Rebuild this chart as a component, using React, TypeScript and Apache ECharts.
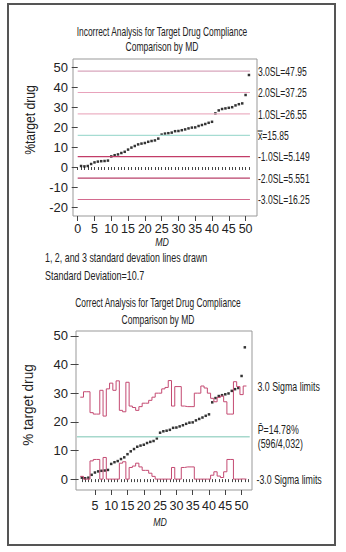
import React, { useEffect, useRef } from "react";
import * as echarts from "echarts";

// MD index and % target drug per MD (sorted)
const mdIndex = Array.from({ length: 51 }, (_, i) => i + 1);
const pctTargetDrug = [
  0.5, 0.3, 0.5, 1.5, 2.3, 2.7, 2.9, 3.0, 3.2, 5.3,
  5.9, 6.3, 7.0, 7.6, 8.7, 9.7, 10.5, 11.3, 11.7, 12.0,
  12.6, 13.0, 13.3, 14.2, 16.2, 16.7, 16.9, 17.2, 17.9, 18.0,
  18.4, 18.8, 19.3, 19.7, 19.8, 20.5, 21.0, 21.5, 22.1, 22.6,
  26.8, 28.3, 29.0, 29.3, 29.6, 29.9, 30.8, 31.4, 31.8, 36.0,
  46.0,
];

// Incorrect analysis: standard deviation lines
const sdLineValues = [47.95, 37.25, 26.55, 15.85, 5.149, -5.551, -16.25];
const sdLineLabels = [
  "3.0SL=47.95",
  "2.0SL=37.25",
  "1.0SL=26.55",
  "x\u033F=15.85",
  "-1.0SL=5.149",
  "-2.0SL=5.551",
  "-3.0SL=16.25",
];
const sdLineColors = ["#d8a6bc", "#e8a2bb", "#ecb2c4", "#a6dcd2", "#c23c68", "#b8406a", "#d36a8e"];

// Correct analysis: p-bar and 3-sigma upper limit per MD
const pBar = 14.78;
const pBarLabel = "P\u0304=14.78%\n(596/4,032)";
const upperSigmaLimit = [
  28.6, 30.5, 30.5, 23.2, 22.7, 22.7, 31.0, 22.0, 31.5, 33.5,
  31.0, 34.3, 24.0, 23.5, 33.8, 25.5, 25.0, 24.0, 25.3, 26.5,
  26.5, 27.5, 28.6, 30.0, 30.0, 31.5, 32.0, 34.4, 25.5, 32.3,
  32.3, 25.5, 25.3, 25.3, 25.3, 30.0, 30.0, 32.5, 31.8, 30.0,
  28.2, 27.0, 28.5, 29.0, 27.0, 22.7, 22.7, 34.0, 32.3, 29.5,
  32.5,
];
const lowerSigmaLimit = upperSigmaLimit.map((u) => Math.max(0, 2 * pBar - u));

const topYTicks = [-20, -10, 0, 10, 20, 30, 40, 50];
const topXLabels = [0, 5, 10, 15, 20, 25, 30, 35, 40, 45, 50];
const topXTicks = Array.from({ length: 52 }, (_, i) => i);
const botYTicks = [0, 10, 20, 30, 40, 50];
const botXLabels = [5, 10, 15, 20, 25, 30, 35, 40, 45, 50];
const botXTicks = Array.from({ length: 52 }, (_, i) => i + 1);

const FONT = "'Liberation Sans', Arial, sans-serif";
const TXT = "#222";
const SDX = [0, 51.3];
const CLX = [-0.5, 52.5];

function stepData(vals: number[]) {
  const out: number[][] = [];
  vals.forEach((v, i) => {
    out.push([mdIndex[i] - 0.5, v]);
    out.push([mdIndex[i] + 0.5, v]);
  });
  return out;
}

function txt(id: string, x: number, y: number, text: string, size: number, extra: any = {}) {
  return {
    id,
    type: "text",
    x,
    y,
    scaleX: extra.scaleX ?? 0.75,
    rotation: extra.rotation || 0,
    silent: true,
    style: {
      text,
      fill: TXT,
      font: `${extra.italic ? "italic " : ""}${size}px ${FONT}`,
      textAlign: extra.align || "center",
      textVerticalAlign: "middle",
      lineHeight: extra.lineHeight,
    },
  };
}

export default function App() {
  const ref = useRef<HTMLDivElement>(null);
  useEffect(() => {
    if (!ref.current) return;
    const chart = echarts.init(ref.current, null, { renderer: "svg" });

    const xAxisBase = (gridIndex: number, min: number, max: number) => ({
      type: "value",
      gridIndex,
      min,
      max,
      position: "bottom",
      axisLine: { show: false },
      splitLine: { show: false },
    });

    const series: any[] = [];
    sdLineValues.forEach((v, k) => {
      series.push({
        type: "line",
        xAxisIndex: 0,
        yAxisIndex: 0,
        data: [[SDX[0], v], [SDX[1], v]],
        symbol: "none",
        silent: true,
        lineStyle: { color: sdLineColors[k], width: 1.2 },
      });
    });
    series.push({
      type: "scatter",
      xAxisIndex: 0,
      yAxisIndex: 0,
      data: pctTargetDrug.map((v, i) => [mdIndex[i], v]),
      symbol: "rect",
      symbolSize: 2.5,
      itemStyle: { color: "#000" },
    });

    series.push({
      type: "line",
      xAxisIndex: 2,
      yAxisIndex: 1,
      data: [[CLX[0], pBar], [CLX[1], pBar]],
      symbol: "none",
      lineStyle: { color: "#a6d8cc", width: 1.5 },
    });
    series.push({
      type: "line",
      xAxisIndex: 2,
      yAxisIndex: 1,
      data: stepData(upperSigmaLimit),
      symbol: "none",
      lineStyle: { color: "#c44a72", width: 1 },
    });
    series.push({
      type: "line",
      xAxisIndex: 2,
      yAxisIndex: 1,
      data: stepData(lowerSigmaLimit),
      symbol: "none",
      lineStyle: { color: "#c44a72", width: 1 },
    });
    series.push({
      type: "scatter",
      xAxisIndex: 2,
      yAxisIndex: 1,
      data: pctTargetDrug.map((v, i) => [mdIndex[i], v]),
      symbol: "rect",
      symbolSize: 2.5,
      itemStyle: { color: "#000" },
    });

    const axisLabelStyle = { color: TXT, fontFamily: FONT };

    chart.setOption({
      animation: false,
      backgroundColor: "#fff",
      textStyle: { fontFamily: FONT },
      grid: [
        { left: 73, top: 59, width: 184, height: 157, show: true, borderColor: "#999", borderWidth: 1, backgroundColor: "transparent" },
        { left: 76, top: 331, width: 176, height: 159, show: true, borderColor: "#999", borderWidth: 1, backgroundColor: "transparent" },
      ],
      xAxis: [
        {
          ...xAxisBase(0, -1.4, 53.4),
          axisTick: { show: true, customValues: topXTicks, length: 3, lineStyle: { color: "#444" } },
          axisLabel: { show: true, customValues: topXLabels, fontSize: 12.5, margin: 6, ...axisLabelStyle },
        },
        {
          ...xAxisBase(0, -1.4, 53.4),
          axisTick: { show: true, customValues: topXLabels, length: 5, lineStyle: { color: "#444" } },
          axisLabel: { show: false },
        },
        {
          ...xAxisBase(1, -0.8, 53.2),
          axisTick: { show: true, customValues: botXTicks, length: 3, lineStyle: { color: "#444" } },
          axisLabel: { show: true, customValues: botXLabels, fontSize: 12.5, margin: 9, ...axisLabelStyle },
        },
        {
          ...xAxisBase(1, -0.8, 53.2),
          axisTick: { show: true, customValues: botXLabels, length: 5, lineStyle: { color: "#444" } },
          axisLabel: { show: false },
        },
      ],
      yAxis: [
        {
          type: "value",
          gridIndex: 0,
          min: -24.5,
          max: 54,
          axisLine: { show: false },
          splitLine: { show: false },
          axisTick: { show: true, customValues: topYTicks, length: 6, lineStyle: { color: "#444" } },
          axisLabel: { show: true, customValues: topYTicks, fontSize: 13, margin: 5, ...axisLabelStyle },
        },
        {
          type: "value",
          gridIndex: 1,
          min: -3.8,
          max: 51.7,
          axisLine: { show: false },
          splitLine: { show: false },
          axisTick: { show: true, customValues: botYTicks, length: 8, lineStyle: { color: "#444" } },
          axisLabel: { show: true, customValues: botYTicks, fontSize: 13, margin: 8, ...axisLabelStyle },
        },
      ],
      series,
      graphic: [
        {
          id: "frame",
          type: "rect",
          shape: { x: 8, y: 4, width: 327, height: 541 },
          style: { fill: "none", stroke: "#555", lineWidth: 2 },
          silent: true,
        },
        txt("t1", 162, 32, "Incorrect Analysis for Target Drug Compliance", 12, { scaleX: 0.7 }),
        txt("t2", 162, 47, "Comparison by MD", 12, { scaleX: 0.71 }),
        txt("yn1", 30, 120, "%target drug", 14, { rotation: Math.PI / 2, scaleX: 0.87 }),
        txt("xn1", 162, 242, "MD", 11, { italic: true, scaleX: 0.8 }),
        txt("n1", 45, 257, "1, 2, and 3 standard devation lines drawn", 12, { align: "left", scaleX: 0.74 }),
        txt("n2", 45, 275, "Standard Deviation=10.7", 12, { align: "left", scaleX: 0.75 }),
        txt("t3", 158, 303, "Correct Analysis for Target Drug Compliance", 12, { scaleX: 0.7 }),
        txt("t4", 158, 320, "Comparison by MD", 12, { scaleX: 0.71 }),
        txt("yn2", 28, 405, "% target drug", 14, { rotation: Math.PI / 2, scaleX: 0.97 }),
        txt("xn2", 160, 522, "MD", 11, { italic: true, scaleX: 0.8 }),
      ],
    });

    // Right-hand labels anchored to the line ends through the chart's own scales
    const labels: any[] = [];
    sdLineValues.forEach((v, k) => {
      const p = chart.convertToPixel({ xAxisIndex: 0, yAxisIndex: 0 }, [SDX[1], v]) as number[];
      labels.push(txt("sdl" + k, p[0] + 8, p[1], sdLineLabels[k], 13, { align: "left", scaleX: 0.66 }));
    });
    const nU = upperSigmaLimit.length - 1;
    const pu = chart.convertToPixel({ xAxisIndex: 2, yAxisIndex: 1 }, [mdIndex[nU] + 0.5, upperSigmaLimit[nU]]) as number[];
    labels.push(txt("ucl", pu[0] + 11, pu[1], "3.0 Sigma limits", 13, { align: "left", scaleX: 0.68 }));
    const pc = chart.convertToPixel({ xAxisIndex: 2, yAxisIndex: 1 }, [CLX[1], pBar]) as number[];
    labels.push(txt("pbar", pc[0] + 8, pc[1], pBarLabel, 13, { align: "left", scaleX: 0.68, lineHeight: 14 }));
    const pl = chart.convertToPixel({ xAxisIndex: 2, yAxisIndex: 1 }, [mdIndex[nU] + 0.5, lowerSigmaLimit[nU]]) as number[];
    labels.push(txt("lcl", pl[0] + 10, pl[1], "-3.0 Sigma limits", 13, { align: "left", scaleX: 0.68 }));
    chart.setOption({ graphic: labels });

    return () => chart.dispose();
  }, []);

  return (
    <div
      ref={ref}
      style={{ position: "absolute", left: 0, top: 0, width: 346, height: 552, background: "#fff" }}
    />
  );
}
